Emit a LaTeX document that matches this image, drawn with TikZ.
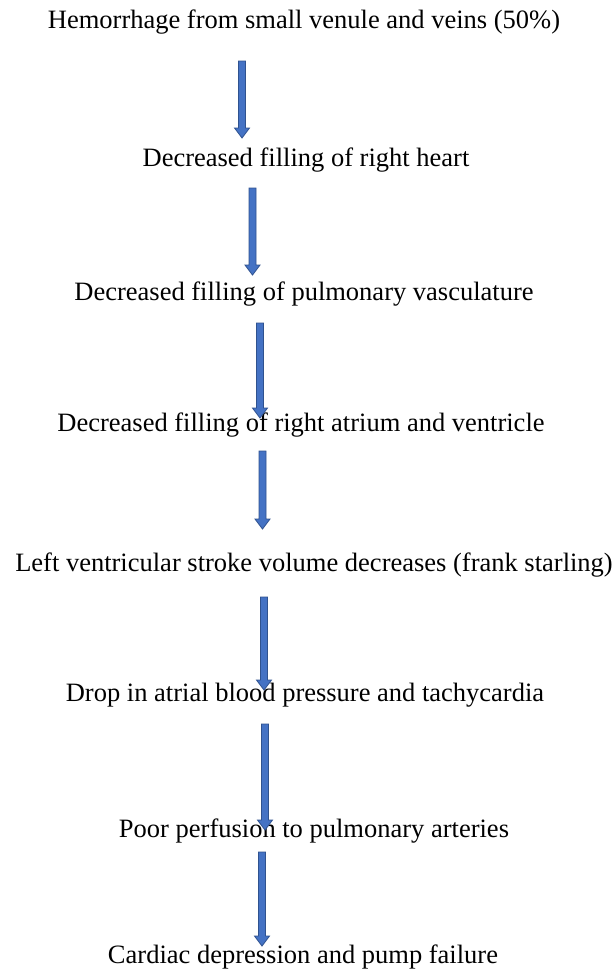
\documentclass[tikz,border=0pt]{standalone}
\usepackage{fontspec}
\setmainfont{Liberation Serif}
\usetikzlibrary{calc}
\definecolor{arrfill}{HTML}{4472C4}
\definecolor{arrline}{HTML}{2F528F}
\tikzset{
  lbl/.style={font=\fontsize{26.5bp}{30bp}\selectfont, inner sep=0pt, anchor=center},
  blockarrow/.style={fill=arrfill, draw=arrline, line width=0.8bp, line join=miter}
}
\newcommand\barrow[2]{%
  \draw[blockarrow] let \p1=(#1), \p2=(#2) in
    (\x1-3.5bp,\y1) -- (\x1+3.5bp,\y1) -- (\x1+3.5bp,\y2+10bp) -- (\x1+7.5bp,\y2+10bp)
    -- (\x1,\y2) -- (\x1-7.5bp,\y2+10bp) -- (\x1-3.5bp,\y2+10bp) -- cycle;}
\begin{document}
\begin{tikzpicture}[x=1bp,y=-1bp]
\useasboundingbox (0,0) rectangle (615,977);
\node[lbl] (t1) at (304,22) {Hemorrhage from small venule and veins (50\%)};
\node[lbl] (t2) at (306,160) {Decreased filling of right heart};
\node[lbl] (t3) at (304,294) {Decreased filling of pulmonary vasculature};
\node[lbl] (t4) at (301,425) {Decreased filling of right atrium and ventricle};
\node[lbl] (t5) at (314,565) {Left ventricular stroke volume decreases (frank starling)};
\node[lbl] (t6) at (305,695) {Drop in atrial blood pressure and tachycardia};
\node[lbl] (t7) at (314,831) {Poor perfusion to pulmonary arteries};
\node[lbl] (t8) at (303,957) {Cardiac depression and pump failure};
\coordinate (a1s) at (242,61);  \coordinate (a1e) at (242,138);
\coordinate (a2s) at (252.5,188); \coordinate (a2e) at (252.5,275);
\coordinate (a3s) at (260,323); \coordinate (a3e) at (260,418);
\coordinate (a4s) at (262.5,451); \coordinate (a4e) at (262.5,529);
\coordinate (a5s) at (264,597); \coordinate (a5e) at (264,690);
\coordinate (a6s) at (265,724); \coordinate (a6e) at (265,830);
\coordinate (a7s) at (262,852); \coordinate (a7e) at (262,946);
\barrow{a1s}{a1e}
\barrow{a2s}{a2e}
\barrow{a3s}{a3e}
\barrow{a4s}{a4e}
\barrow{a5s}{a5e}
\barrow{a6s}{a6e}
\barrow{a7s}{a7e}
\end{tikzpicture}
\end{document}
